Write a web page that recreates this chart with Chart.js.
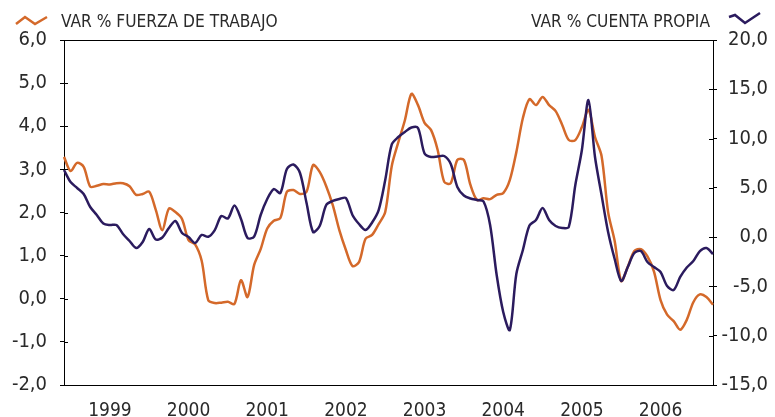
<!DOCTYPE html>
<html>
<head>
<meta charset="utf-8">
<script src="https://cdn.jsdelivr.net/npm/chart.js@4.4.1/dist/chart.umd.min.js"></script>
<style>
  html, body { margin: 0; padding: 0; background: #fff; }
  #wrap { position: relative; width: 775px; height: 417px; }
  #chart { position: absolute; left: 0; top: 0; }
  .lg {
    position: absolute; top: 10px; font-family: 'Liberation Sans Narrow', 'DejaVu Sans Condensed', sans-serif;
    font-size: 17.2px; color: #2a2a2a; white-space: nowrap; line-height: 22px;
  }
  .icon { position: absolute; top: 10px; }
</style>
</head>
<body>
<div id="wrap">
  <canvas id="chart" width="775" height="417"></canvas>
  <svg class="icon" style="left:14px" width="36" height="20">
    <polyline points="2,14 11,7 21,14 33,7" fill="none" stroke="#d4692a" stroke-width="2.5"/>
  </svg>
  <div class="lg" style="left:61px">VAR % FUERZA DE TRABAJO</div>
  <div class="lg" style="right:65px">VAR % CUENTA PROPIA</div>
  <svg class="icon" style="left:727px" width="36" height="20">
    <polyline points="2,7 8,5 18,13 33,3" fill="none" stroke="#2b1b5e" stroke-width="2.5"/>
  </svg>
</div>
<script>
// monthly series, Jun 1998 .. Sep 2006
const startYear = 1998, startMonth = 6, nMonths = 100;
const months = [];
for (let i = 0; i < nMonths; i++) {
  const m = startMonth - 1 + i;
  const y = startYear + Math.floor(m / 12);
  months.push(y + '-' + String(m % 12 + 1).padStart(2, '0'));
}

// VAR % FUERZA DE TRABAJO (left axis)
const fuerzaTrabajo = [
  3.29, 2.96, 3.15, 3.06, 2.60, 2.62, 2.66, 2.65, 2.68, 2.68,
  2.61, 2.41, 2.43, 2.48, 2.06, 1.59, 2.09, 2.01, 1.85, 1.36,
  1.26, 0.88, -0.03, -0.10, -0.09, -0.07, -0.12, 0.43, 0.04, 0.78,
  1.15, 1.63, 1.81, 1.87, 2.48, 2.52, 2.43, 2.48, 3.10, 2.94,
  2.61, 2.17, 1.59, 1.13, 0.76, 0.85, 1.39, 1.48, 1.73, 2.01,
  3.08, 3.63, 4.14, 4.75, 4.49, 4.08, 3.91, 3.45, 2.71, 2.68,
  3.22, 3.22, 2.64, 2.29, 2.33, 2.31, 2.41, 2.45, 2.75, 3.40,
  4.19, 4.63, 4.49, 4.68, 4.49, 4.35, 4.03, 3.68, 3.68, 3.98,
  4.38, 3.75, 3.31, 2.01, 1.34, 0.41, 0.74, 1.11, 1.15, 0.98,
  0.63, -0.03, -0.37, -0.52, -0.72, -0.49, -0.08, 0.10, 0.04, -0.14
];

// VAR % CUENTA PROPIA (right axis)
const cuentaPropia = [
  6.81, 5.59, 4.99, 4.38, 3.06, 2.25, 1.38, 1.23, 1.23, 0.32,
  -0.39, -1.10, -0.49, 0.83, -0.24, -0.04, 0.93, 1.64, 0.42, 0.01,
  -0.59, 0.22, 0.04, 0.72, 2.14, 1.89, 3.21, 1.84, -0.09, 0.06,
  2.25, 3.87, 4.88, 4.48, 6.91, 7.37, 6.51, 3.46, 0.52, 1.13,
  3.26, 3.67, 3.87, 3.97, 2.25, 1.33, 0.72, 1.49, 2.75, 5.80,
  9.40, 10.16, 10.67, 11.12, 11.07, 8.49, 8.13, 8.18, 8.23, 7.42,
  5.09, 4.22, 3.92, 3.77, 3.62, 1.23, -3.84, -7.59, -9.42, -3.74,
  -1.30, 1.18, 1.74, 2.96, 1.74, 1.13, 0.93, 1.03, 5.29, 8.84,
  13.91, 8.13, 4.28, 0.52, -2.22, -4.45, -3.03, -1.61, -1.41, -2.52,
  -3.03, -3.54, -4.96, -5.36, -4.04, -3.08, -2.42, -1.41, -1.10, -1.71
];

const leftTicks = { min: -2, max: 6, step: 1 };
const rightTicks = { min: -15, max: 20, step: 5 };

const FONT = "'Liberation Sans Narrow', 'DejaVu Sans Condensed', sans-serif";
const INK = '#2a2a2a';
const fmt = v => v.toFixed(1).replace('.', ',');

// short tick marks inside the plot frame
const innerTicks = {
  id: 'innerTicks',
  afterDraw(chart) {
    const ctx = chart.ctx;
    ctx.save();
    ctx.strokeStyle = '#000';
    ctx.lineWidth = 1;
    ['y', 'y1'].forEach(id => {
      const s = chart.scales[id];
      const x0 = id === 'y' ? s.right : s.left;
      const dir = id === 'y' ? 1 : -1;
      s.ticks.forEach(t => {
        const py = Math.round(s.getPixelForValue(t.value)) + 0.5;
        ctx.beginPath();
        ctx.moveTo(x0, py);
        ctx.lineTo(x0 + dir * 4, py);
        ctx.stroke();
      });
    });
    ctx.restore();
  }
};

new Chart(document.getElementById('chart'), {
  type: 'line',
  data: {
    labels: months,
    datasets: [
      {
        label: 'VAR % CUENTA PROPIA',
        data: cuentaPropia,
        yAxisID: 'y1',
        borderColor: '#2b1b5e',
        borderWidth: 2.5,
        pointRadius: 0,
        tension: 0.3,
      },
      {
        label: 'VAR % FUERZA DE TRABAJO',
        data: fuerzaTrabajo,
        yAxisID: 'y',
        borderColor: '#d4692a',
        borderWidth: 2.5,
        pointRadius: 0,
        tension: 0.3,
      },
    ],
  },
  options: {
    responsive: false,
    devicePixelRatio: 1,
    animation: false,
    layout: { padding: { left: 0, right: 7, top: 0, bottom: 0 } },
    plugins: { legend: { display: false }, tooltip: { enabled: false } },
    scales: {
      x: {
        position: 'bottom',
        offset: false,
        grid: { display: true, drawOnChartArea: false, drawTicks: false },
        border: { display: true, color: '#000', width: 1 },
        ticks: {
          autoSkip: false, maxRotation: 0, padding: 15,
          color: INK, font: { family: FONT, size: 19 },
          callback(value) {
            const lab = this.getLabelForValue(value);
            return lab.endsWith('-01') ? lab.slice(0, 4) : null;
          },
        },
        afterFit(s) { s.height = 32; },
      },
      xTop: {
        position: 'top',
        offset: false,
        grid: { display: true, drawOnChartArea: false, drawTicks: false },
        border: { display: true, color: '#000', width: 1 },
        ticks: { display: false },
        afterFit(s) { s.height = 40; },
      },
      y: {
        position: 'left',
        min: leftTicks.min, max: leftTicks.max,
        grid: { display: true, drawOnChartArea: false, drawTicks: true, tickLength: 4, color: '#000' },
        border: { display: true, color: '#000', width: 1 },
        ticks: {
          stepSize: leftTicks.step, padding: 13, color: INK,
          font: { family: FONT, size: 20 },
          callback: v => fmt(v),
        },
        afterFit(s) { s.width = 64; },
      },
      y1: {
        position: 'right',
        min: rightTicks.min, max: rightTicks.max,
        grid: { display: true, drawOnChartArea: false, drawTicks: true, tickLength: 4, color: '#000' },
        border: { display: true, color: '#000', width: 1 },
        ticks: {
          stepSize: rightTicks.step, padding: 4, color: INK, crossAlign: 'far',
          font: { family: FONT, size: 20 },
          callback: v => fmt(v),
        },
        afterFit(s) { s.width = 55; },
      },
    },
  },
  plugins: [innerTicks],
});
</script>
</body>
</html>
